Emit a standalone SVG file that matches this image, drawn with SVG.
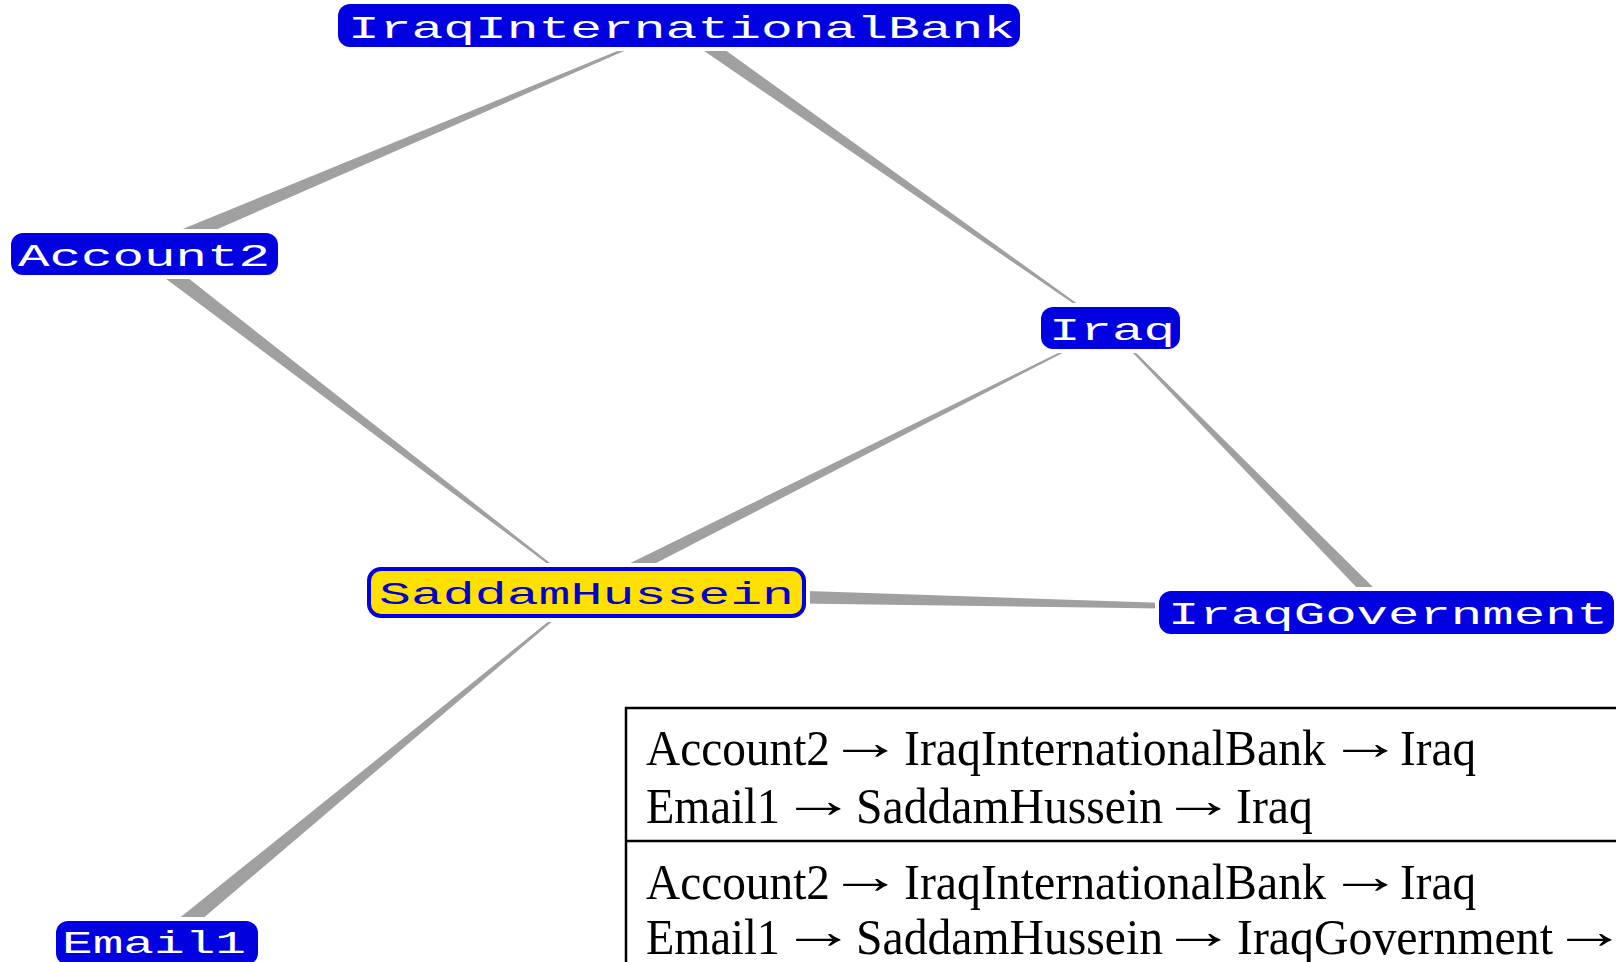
<svg xmlns="http://www.w3.org/2000/svg" width="1616" height="962" viewBox="0 0 1616 962">
<style>
.edge{fill:#A0A0A0;stroke:none}
.halo{fill:#FFFFFF}
.node{fill:#0000E0}
.focus{fill:#FFE000;stroke:#0000E0;stroke-width:4}
.lbl{font-family:"Liberation Mono","DejaVu Sans Mono",monospace;font-size:32px;fill:#FFFFFF}
.flbl{font-family:"Liberation Mono","DejaVu Sans Mono",monospace;font-size:32px;fill:#0000C8}
.tbl{font-family:"Liberation Serif","Times New Roman",serif;font-size:50px;fill:#000000}
.arr{text-anchor:middle}
.frame{fill:none;stroke:#000000;stroke-width:2.5}
</style>
<rect width="1616" height="962" fill="#FFFFFF"/>
<g id="connectors">
<polygon class="edge" points="146.9,259.9 680.2,26.5 679.8,25.5 141.1,246.1"/>
<polygon class="edge" points="139.4,259.0 585.7,592.4 586.3,591.6 148.6,247.0"/>
<polygon class="edge" points="676.0,31.7 1109.7,328.4 1110.3,327.6 684.0,20.3"/>
<polygon class="edge" points="588.9,597.8 1110.2,328.4 1109.8,327.6 583.1,586.2"/>
<polygon class="edge" points="1392.6,606.4 1110.4,327.6 1109.6,328.4 1383.4,615.6"/>
<polygon class="edge" points="585.8,600.5 1388,611.5 1388,610.5 586.2,583.5"/>
<polygon class="edge" points="170.1,946.2 586.3,592.4 585.7,591.6 159.9,933.8"/>
</g>
<g id="node-IraqInternationalBank">
<rect class="halo" x="334" y="0" width="690" height="51" rx="15"/>
<rect class="node" x="338" y="4" width="682" height="43" rx="12"/>
<text class="lbl" x="348" y="38" textLength="667" lengthAdjust="spacingAndGlyphs">IraqInternationalBank</text>
</g>
<g id="node-Account2">
<rect class="halo" x="7" y="229" width="275" height="50" rx="15"/>
<rect class="node" x="11" y="233" width="267" height="42" rx="12"/>
<text class="lbl" x="18" y="266" textLength="252" lengthAdjust="spacingAndGlyphs">Account2</text>
</g>
<g id="node-Iraq">
<rect class="halo" x="1037" y="303" width="147" height="50" rx="15"/>
<rect class="node" x="1041" y="307" width="139" height="42" rx="12"/>
<text class="lbl" x="1049" y="340" textLength="126" lengthAdjust="spacingAndGlyphs">Iraq</text>
</g>
<g id="node-SaddamHussein">
<rect class="halo" x="363" y="563" width="447" height="59" rx="16"/>
<rect class="focus" x="369" y="569" width="435" height="47" rx="12"/>
<text class="flbl" x="379" y="604" textLength="415" lengthAdjust="spacingAndGlyphs">SaddamHussein</text>
</g>
<g id="node-IraqGovernment">
<rect class="halo" x="1155" y="587" width="463" height="51" rx="15"/>
<rect class="node" x="1159" y="591" width="455" height="43" rx="12"/>
<text class="lbl" x="1168" y="624" textLength="440" lengthAdjust="spacingAndGlyphs">IraqGovernment</text>
</g>
<g id="node-Email1">
<rect class="halo" x="52" y="917" width="210" height="50" rx="15"/>
<rect class="node" x="56" y="921" width="202" height="44" rx="12"/>
<text class="lbl" x="62" y="953" textLength="184" lengthAdjust="spacingAndGlyphs">Email1</text>
</g>
<g id="paths-table">
<rect class="frame" x="626" y="708" width="1000" height="270"/>
<line class="frame" x1="626" y1="841" x2="1616" y2="841"/>
<text class="tbl" x="646" y="765" textLength="184" lengthAdjust="spacingAndGlyphs">Account2</text>
<text class="tbl arr" transform="translate(865.5,759) scale(1.5,1)">→</text>
<text class="tbl" x="904" y="765" textLength="422" lengthAdjust="spacingAndGlyphs">IraqInternationalBank</text>
<text class="tbl arr" transform="translate(1365.5,759) scale(1.5,1)">→</text>
<text class="tbl" x="1400" y="765" textLength="76" lengthAdjust="spacingAndGlyphs">Iraq</text>
<text class="tbl" x="646" y="823" textLength="134" lengthAdjust="spacingAndGlyphs">Email1</text>
<text class="tbl arr" transform="translate(818.5,817) scale(1.5,1)">→</text>
<text class="tbl" x="856" y="823" textLength="307" lengthAdjust="spacingAndGlyphs">SaddamHussein</text>
<text class="tbl arr" transform="translate(1198.5,817) scale(1.5,1)">→</text>
<text class="tbl" x="1236" y="823" textLength="77" lengthAdjust="spacingAndGlyphs">Iraq</text>
<text class="tbl" x="646" y="899" textLength="184" lengthAdjust="spacingAndGlyphs">Account2</text>
<text class="tbl arr" transform="translate(865.5,893) scale(1.5,1)">→</text>
<text class="tbl" x="904" y="899" textLength="422" lengthAdjust="spacingAndGlyphs">IraqInternationalBank</text>
<text class="tbl arr" transform="translate(1365.5,893) scale(1.5,1)">→</text>
<text class="tbl" x="1400" y="899" textLength="76" lengthAdjust="spacingAndGlyphs">Iraq</text>
<text class="tbl" x="646" y="954" textLength="134" lengthAdjust="spacingAndGlyphs">Email1</text>
<text class="tbl arr" transform="translate(818.5,948) scale(1.5,1)">→</text>
<text class="tbl" x="856" y="954" textLength="307" lengthAdjust="spacingAndGlyphs">SaddamHussein</text>
<text class="tbl arr" transform="translate(1198.5,948) scale(1.5,1)">→</text>
<text class="tbl" x="1237" y="954" textLength="316" lengthAdjust="spacingAndGlyphs">IraqGovernment</text>
<text class="tbl arr" transform="translate(1589.5,948) scale(1.5,1)">→</text>
</g>
</svg>
